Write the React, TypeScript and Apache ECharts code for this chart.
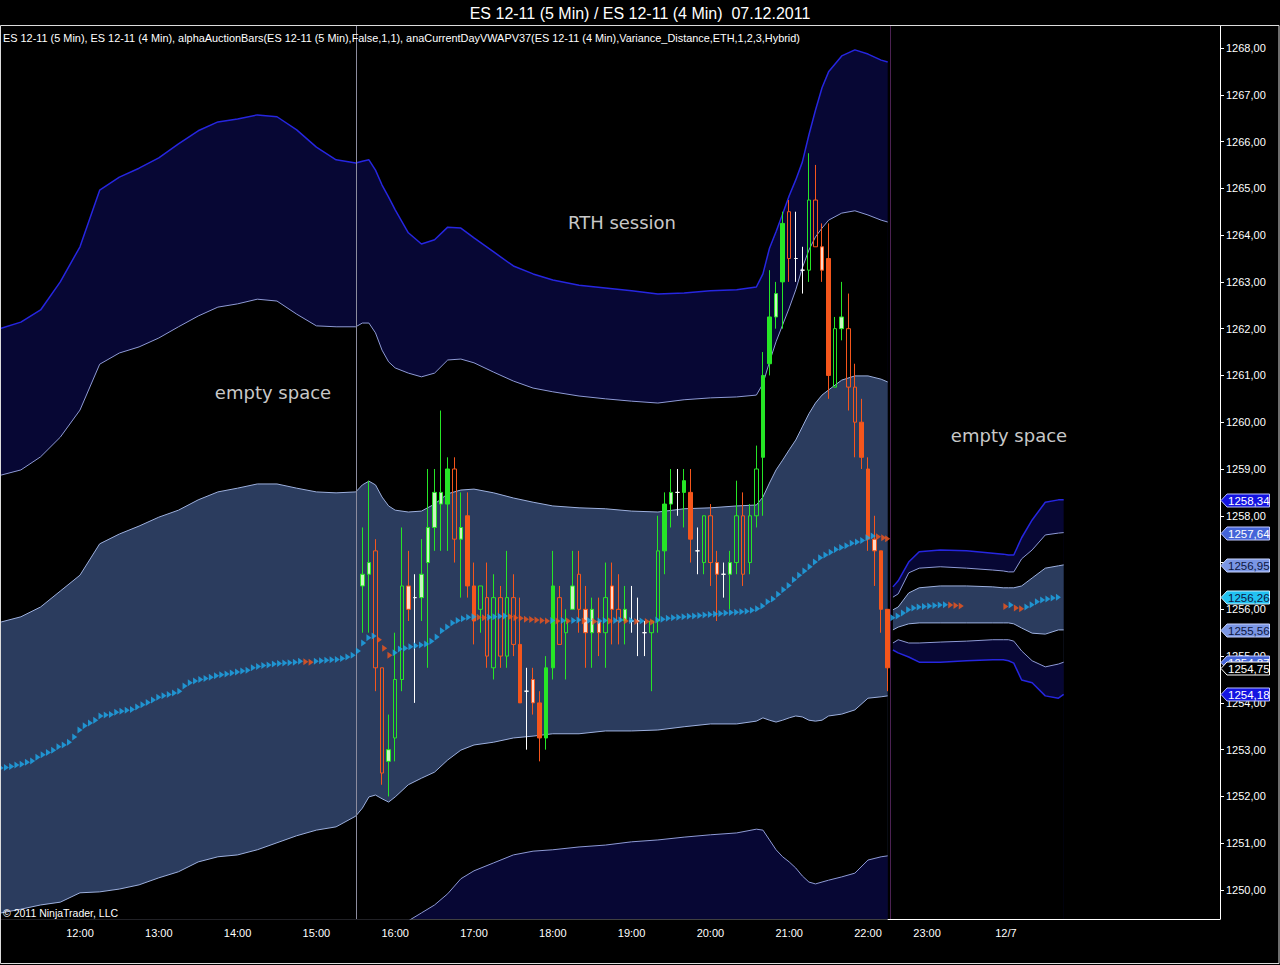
import React, { useEffect, useRef } from "react";
import * as echarts from "echarts";

const TITLE = "ES 12-11 (5 Min) / ES 12-11 (4 Min)  07.12.2011";
const LEGEND_TEXT =
  "ES 12-11 (5 Min), ES 12-11 (4 Min), alphaAuctionBars(ES 12-11 (5 Min),False,1,1), anaCurrentDayVWAPV37(ES 12-11 (4 Min),Variance_Distance,ETH,1,2,3,Hybrid)";
const COPYRIGHT = "© 2011 NinjaTrader, LLC";
const NOTES = ["empty space", "RTH session", "empty space"];

const SESSION_START = "15:30";
const SESSION_END = "22:15";
const POST_START = "22:34";

// x axis ticks
const xTickTimes = ["12:00", "13:00", "14:00", "15:00", "16:00", "17:00", "18:00", "19:00", "20:00", "21:00", "22:00", "23:00", "00:00"];
const xTickLabels = ["12:00", "13:00", "14:00", "15:00", "16:00", "17:00", "18:00", "19:00", "20:00", "21:00", "22:00", "23:00", "12/7"];
const yTickValues = [1250, 1251, 1252, 1253, 1254, 1255, 1256, 1257, 1258, 1259, 1260, 1261, 1262, 1263, 1264, 1265, 1266, 1267, 1268];

// ---------- VWAP bands, ETH session ----------
const sessBandTimes = ["10:45", "11:00", "11:15", "11:30", "11:45", "12:00", "12:15", "12:30", "12:45", "13:00", "13:15", "13:30", "13:45", "14:00", "14:15", "14:30", "14:45", "15:00", "15:15", "15:30", "15:35", "15:40", "15:45", "15:50", "15:55", "16:00", "16:10", "16:20", "16:30", "16:40", "16:50", "17:00", "17:15", "17:30", "17:45", "18:00", "18:20", "18:40", "19:00", "19:20", "19:40", "20:00", "20:20", "20:35", "20:40", "20:45", "20:50", "20:55", "21:00", "21:05", "21:10", "21:15", "21:20", "21:25", "21:30", "21:40", "21:50", "22:00", "22:10", "22:15"];
const sessB3U = [1261.89, 1262.01, 1262.14, 1262.40, 1263.00, 1263.75, 1264.96, 1265.24, 1265.43, 1265.65, 1265.95, 1266.23, 1266.42, 1266.48, 1266.57, 1266.53, 1266.25, 1265.88, 1265.61, 1265.54, 1265.58, 1265.61, 1265.39, 1265.07, 1264.81, 1264.54, 1264.05, 1263.81, 1263.90, 1264.17, 1264.15, 1263.94, 1263.64, 1263.34, 1263.17, 1263.04, 1262.93, 1262.87, 1262.81, 1262.74, 1262.76, 1262.81, 1262.83, 1262.89, 1263.17, 1263.72, 1264.07, 1264.45, 1264.84, 1265.18, 1265.56, 1266.14, 1266.67, 1267.15, 1267.49, 1267.83, 1267.96, 1267.87, 1267.74, 1267.70];
const sessB2U = [1258.77, 1258.87, 1258.98, 1259.26, 1259.68, 1260.26, 1261.24, 1261.48, 1261.61, 1261.80, 1262.04, 1262.27, 1262.46, 1262.53, 1262.63, 1262.59, 1262.31, 1262.06, 1262.04, 1262.04, 1262.12, 1262.12, 1261.91, 1261.54, 1261.29, 1261.16, 1261.05, 1260.97, 1261.05, 1261.33, 1261.35, 1261.27, 1261.07, 1260.88, 1260.73, 1260.65, 1260.56, 1260.50, 1260.45, 1260.41, 1260.48, 1260.52, 1260.54, 1260.58, 1260.82, 1261.29, 1261.72, 1262.08, 1262.44, 1262.83, 1263.30, 1263.68, 1263.96, 1264.15, 1264.32, 1264.47, 1264.52, 1264.43, 1264.32, 1264.28];
const sessB1U = [1255.64, 1255.73, 1255.84, 1256.05, 1256.39, 1256.73, 1257.40, 1257.61, 1257.78, 1257.97, 1258.12, 1258.34, 1258.51, 1258.59, 1258.68, 1258.68, 1258.59, 1258.51, 1258.49, 1258.51, 1258.66, 1258.74, 1258.66, 1258.40, 1258.21, 1258.12, 1258.08, 1258.10, 1258.25, 1258.47, 1258.55, 1258.57, 1258.49, 1258.38, 1258.29, 1258.21, 1258.17, 1258.15, 1258.10, 1258.08, 1258.15, 1258.17, 1258.21, 1258.23, 1258.40, 1258.70, 1258.98, 1259.19, 1259.41, 1259.62, 1259.90, 1260.18, 1260.41, 1260.58, 1260.69, 1260.90, 1260.99, 1260.99, 1260.92, 1260.86];
const sessB1L = [1249.40, 1249.51, 1249.59, 1249.68, 1249.74, 1249.94, 1249.96, 1250.02, 1250.11, 1250.26, 1250.39, 1250.60, 1250.71, 1250.75, 1250.86, 1251.01, 1251.16, 1251.28, 1251.35, 1251.58, 1251.75, 1251.99, 1252.03, 1251.95, 1251.88, 1251.99, 1252.25, 1252.39, 1252.52, 1252.78, 1252.99, 1253.10, 1253.16, 1253.25, 1253.29, 1253.34, 1253.34, 1253.40, 1253.40, 1253.42, 1253.49, 1253.55, 1253.55, 1253.61, 1253.68, 1253.63, 1253.59, 1253.63, 1253.68, 1253.72, 1253.70, 1253.63, 1253.61, 1253.63, 1253.72, 1253.76, 1253.85, 1254.10, 1254.13, 1254.15];
const sessB2L = [1246.28, 1246.35, 1246.41, 1246.47, 1246.43, 1246.58, 1246.15, 1246.13, 1246.26, 1246.45, 1246.43, 1246.71, 1246.73, 1246.79, 1246.90, 1247.11, 1247.44, 1247.73, 1247.80, 1248.10, 1248.27, 1248.65, 1248.78, 1248.80, 1248.76, 1248.97, 1249.34, 1249.51, 1249.68, 1249.92, 1250.24, 1250.41, 1250.58, 1250.75, 1250.83, 1250.86, 1250.92, 1250.96, 1251.03, 1251.07, 1251.13, 1251.18, 1251.22, 1251.30, 1251.28, 1251.07, 1250.86, 1250.71, 1250.60, 1250.47, 1250.30, 1250.17, 1250.13, 1250.17, 1250.21, 1250.28, 1250.36, 1250.64, 1250.71, 1250.73];
const sessB3L = [1243.16, 1243.20, 1243.25, 1243.33, 1243.12, 1243.10, 1242.43, 1242.37, 1242.43, 1242.60, 1242.52, 1242.75, 1242.78, 1242.84, 1242.97, 1243.18, 1243.50, 1243.91, 1244.23, 1244.59, 1244.81, 1245.17, 1245.30, 1245.28, 1245.23, 1245.60, 1246.35, 1246.67, 1246.84, 1247.07, 1247.44, 1247.73, 1247.99, 1248.29, 1248.42, 1248.50, 1248.57, 1248.67, 1248.70, 1248.76, 1248.87, 1248.91, 1248.93, 1249.00, 1248.93, 1248.63, 1248.50, 1248.38, 1248.25, 1248.16, 1247.99, 1247.67, 1247.35, 1247.09, 1246.92, 1246.84, 1246.88, 1247.22, 1247.31, 1247.31];

// ---------- VWAP bands, after the session break ----------
const postBandTimes = ["22:34", "22:38", "22:46", "22:54", "23:10", "23:30", "23:50", "23:58", "00:02", "00:06", "00:12", "00:20", "00:30", "00:40", "00:44"];
const postB3U = [1256.48, 1256.61, 1257.01, 1257.23, 1257.27, 1257.25, 1257.20, 1257.18, 1257.16, 1257.16, 1257.53, 1257.91, 1258.29, 1258.34, 1258.34];
const postB2U = [1256.26, 1256.33, 1256.78, 1256.88, 1256.91, 1256.88, 1256.84, 1256.82, 1256.80, 1256.80, 1257.08, 1257.27, 1257.59, 1257.63, 1257.64];
const postB1U = [1255.99, 1256.05, 1256.35, 1256.46, 1256.50, 1256.50, 1256.48, 1256.46, 1256.46, 1256.46, 1256.50, 1256.67, 1256.88, 1256.93, 1256.95];
const postB1L = [1255.56, 1255.62, 1255.69, 1255.71, 1255.71, 1255.71, 1255.71, 1255.71, 1255.71, 1255.69, 1255.60, 1255.49, 1255.47, 1255.56, 1255.56];
const postB2L = [1255.28, 1255.35, 1255.28, 1255.28, 1255.30, 1255.32, 1255.35, 1255.35, 1255.35, 1255.32, 1255.11, 1254.90, 1254.77, 1254.83, 1254.87];
const postB3L = [1255.13, 1255.07, 1254.98, 1254.87, 1254.87, 1254.90, 1254.92, 1254.92, 1254.90, 1254.85, 1254.49, 1254.43, 1254.15, 1254.10, 1254.18];

// ---------- VWAP (4 min bars) ----------
const vwapSessStart = "11:00";
const vwapSess = [
  1252.61, 1252.62, 1252.64, 1252.67, 1252.69, 1252.73, 1252.76, 1252.84, 1252.89, 1252.94,
  1252.99, 1253.06, 1253.10, 1253.16, 1253.27, 1253.42, 1253.51, 1253.57, 1253.63, 1253.72,
  1253.74, 1253.75, 1253.80, 1253.82, 1253.84, 1253.86, 1253.91, 1253.96, 1254.01, 1254.06,
  1254.12, 1254.15, 1254.18, 1254.21, 1254.25, 1254.36, 1254.43, 1254.47, 1254.50, 1254.52,
  1254.55, 1254.58, 1254.60, 1254.62, 1254.64, 1254.66, 1254.68, 1254.70, 1254.75, 1254.78,
  1254.80, 1254.81, 1254.83, 1254.84, 1254.85, 1254.86, 1254.87, 1254.89, 1254.88, 1254.87,
  1254.89, 1254.90, 1254.91, 1254.92, 1254.93, 1254.95, 1254.98, 1255.02, 1255.11, 1255.28,
  1255.39, 1255.43, 1255.35, 1255.17, 1255.02, 1255.07, 1255.15, 1255.17, 1255.20, 1255.22,
  1255.24, 1255.26, 1255.32, 1255.41, 1255.54, 1255.62, 1255.71, 1255.76, 1255.80, 1255.83,
  1255.84, 1255.83, 1255.82, 1255.83, 1255.84, 1255.85, 1255.86, 1255.84, 1255.82, 1255.81,
  1255.79, 1255.78, 1255.77, 1255.76, 1255.75, 1255.76, 1255.75, 1255.76, 1255.75, 1255.76,
  1255.77, 1255.75, 1255.76, 1255.74, 1255.75, 1255.76, 1255.75, 1255.76, 1255.77, 1255.75,
  1255.76, 1255.74, 1255.75, 1255.74, 1255.73, 1255.77, 1255.79, 1255.81, 1255.82, 1255.83,
  1255.84, 1255.85, 1255.86, 1255.87, 1255.88, 1255.89, 1255.90, 1255.91, 1255.92, 1255.93,
  1255.94, 1255.95, 1255.96, 1255.98, 1256.01, 1256.07, 1256.16, 1256.22, 1256.32, 1256.42,
  1256.51, 1256.63, 1256.73, 1256.82, 1256.91, 1257.01, 1257.10, 1257.16, 1257.22, 1257.28,
  1257.32, 1257.36, 1257.41, 1257.44, 1257.47, 1257.53, 1257.57, 1257.55, 1257.53,
];
const vwapSessLast = { time: "22:15", value: 1257.51 };
const vwapPost1Start = "22:34";
const vwapPost1 = [1255.82, 1255.86, 1255.92, 1255.99, 1256.03, 1256.05, 1256.06, 1256.07, 1256.08, 1256.09, 1256.10, 1256.09, 1256.08, 1256.07];
const vwapPost2Start = "00:00";
const vwapPost2 = [1256.06, 1256.09, 1256.03, 1256.01, 1256.05, 1256.10, 1256.16, 1256.20, 1256.22, 1256.24, 1256.26];

// ---------- 5 min bars (alphaAuctionBars) ----------
const candleStart = "15:35";
const candleOpen = [
  1256.50, 1256.75, 1257.25, 1254.75, 1252.75, 1253.25, 1254.50, 1256.50, 1256.25, 1256.25,
  1257.00, 1257.75, 1258.25, 1258.25, 1259.00, 1257.50, 1258.00, 1256.50, 1256.00, 1256.25,
  1254.75, 1256.25, 1255.00, 1256.25, 1255.25, 1254.25, 1254.50, 1254.00, 1253.25, 1254.75,
  1256.25, 1255.50, 1256.00, 1256.75, 1256.00, 1255.50, 1255.75, 1255.50, 1256.50, 1256.00,
  1255.75, 1255.75, 1255.75, 1255.50, 1255.50, 1255.75, 1257.25, 1258.25, 1258.50, 1258.50,
  1258.50, 1257.25, 1257.00, 1258.00, 1257.00, 1256.75, 1256.75, 1257.00, 1258.00, 1257.00,
  1258.00, 1259.25, 1261.25, 1262.25, 1263.00, 1264.50, 1263.50, 1263.25, 1263.25, 1264.75,
  1263.75, 1263.50, 1260.75, 1262.00, 1262.00, 1260.75, 1260.00, 1259.00, 1257.50, 1257.25,
  1256.00,
];
const candleHigh = [
  1257.75, 1258.75, 1257.50, 1254.75, 1253.75, 1255.50, 1257.75, 1257.25, 1256.75, 1257.50,
  1259.00, 1259.00, 1260.25, 1259.25, 1259.25, 1258.50, 1258.50, 1257.00, 1256.50, 1257.00,
  1256.75, 1256.50, 1257.25, 1256.75, 1256.25, 1254.75, 1254.75, 1254.25, 1255.00, 1257.25,
  1256.50, 1256.00, 1257.25, 1257.25, 1256.50, 1256.25, 1256.25, 1257.00, 1257.00, 1256.75,
  1256.50, 1256.50, 1256.25, 1255.75, 1255.75, 1258.00, 1258.50, 1259.00, 1259.00, 1259.00,
  1259.00, 1257.75, 1258.00, 1258.25, 1257.25, 1257.00, 1257.25, 1258.75, 1258.50, 1258.25,
  1259.50, 1261.50, 1263.25, 1263.00, 1264.50, 1264.75, 1264.50, 1263.75, 1265.75, 1265.50,
  1264.25, 1264.25, 1262.25, 1263.00, 1262.75, 1261.25, 1260.50, 1259.25, 1258.00, 1257.25,
  1256.00,
];
const candleLow = [
  1255.50, 1255.50, 1254.25, 1252.25, 1252.00, 1252.75, 1254.25, 1255.75, 1254.00, 1255.75,
  1254.75, 1257.25, 1257.25, 1257.25, 1257.00, 1256.25, 1256.25, 1255.25, 1255.50, 1254.75,
  1254.50, 1254.75, 1254.75, 1255.00, 1254.00, 1253.00, 1253.75, 1252.75, 1253.00, 1254.50,
  1255.25, 1254.50, 1256.00, 1255.50, 1254.75, 1254.75, 1255.00, 1254.75, 1255.25, 1255.25,
  1255.25, 1255.50, 1255.00, 1255.00, 1254.25, 1255.50, 1256.75, 1257.75, 1258.00, 1257.75,
  1257.00, 1256.75, 1256.75, 1256.50, 1255.75, 1256.25, 1256.00, 1256.75, 1256.50, 1256.75,
  1257.75, 1258.00, 1261.00, 1262.00, 1262.00, 1263.00, 1263.00, 1262.75, 1263.00, 1263.75,
  1263.00, 1260.50, 1260.75, 1261.75, 1260.25, 1259.25, 1259.00, 1257.25, 1256.50, 1255.50,
  1254.25,
];
const candleClose = [
  1256.75, 1257.00, 1254.75, 1252.50, 1253.00, 1254.50, 1256.50, 1256.00, 1256.25, 1256.75,
  1257.75, 1258.50, 1258.50, 1259.00, 1257.50, 1257.75, 1256.50, 1255.75, 1256.50, 1255.00,
  1256.25, 1255.00, 1256.25, 1255.25, 1254.00, 1254.25, 1254.00, 1253.25, 1254.75, 1256.50,
  1255.25, 1255.75, 1256.50, 1256.00, 1255.50, 1256.00, 1255.50, 1256.25, 1256.00, 1255.75,
  1256.00, 1255.75, 1255.75, 1255.50, 1255.75, 1257.25, 1258.25, 1258.50, 1258.50, 1258.75,
  1257.50, 1257.25, 1258.00, 1257.00, 1256.75, 1256.75, 1257.00, 1258.00, 1256.75, 1258.00,
  1259.00, 1261.00, 1262.25, 1262.75, 1264.25, 1263.50, 1263.50, 1263.25, 1264.75, 1263.75,
  1263.25, 1261.00, 1262.00, 1262.25, 1260.75, 1260.00, 1259.25, 1257.50, 1257.25, 1256.00,
  1254.75,
];
// U up solid, u up hollow, l up light, D down solid, d down hollow, p down light, x doji
const candleStyle = [
  "l", "l", "d", "d", "l", "u", "u", "p", "x", "l",
  "l", "l", "l", "U", "d", "l", "D", "D", "u", "d",
  "u", "d", "u", "d", "D", "x", "p", "D", "U", "U",
  "d", "u", "l", "d", "p", "l", "p", "u", "p", "d",
  "l", "x", "x", "x", "u", "u", "U", "l", "x", "U",
  "D", "x", "u", "d", "p", "x", "l", "u", "d", "u",
  "u", "U", "U", "l", "U", "d", "x", "x", "u", "d",
  "p", "D", "u", "l", "d", "d", "D", "D", "p", "D",
  "D",
];

// ---------- styling ----------
const FONT = '"Liberation Sans", Arial, sans-serif';
const NOTE_FONT = '"DejaVu Sans", Verdana, sans-serif';
const NAVY = "#070734";
const SLATE = "#2b3c5e";
const OUTER_LINE = "#2626e0";
const MID_LINE = "#8e9ad6";
const INNER_LINE = "#9db0de";
const GREEN = "#26e626";
const ORANGE = "#f5561c";
const CYAN = "#1eaaee";
const CANDLE_COLORS: Record<string, { fill: string; line: string }> = {
  U: { fill: GREEN, line: GREEN },
  u: { fill: "transparent", line: GREEN },
  l: { fill: "#c8f5c0", line: GREEN },
  D: { fill: ORANGE, line: ORANGE },
  d: { fill: "transparent", line: ORANGE },
  p: { fill: "#ffd8c6", line: ORANGE },
  x: { fill: "#ffffff", line: "#ffffff" },
};

const BREAK_HOURS = 0.25; // 22:15 - 22:30 maintenance break is not drawn
const X_MIN = 10.985;
const X_MAX = 26.467;
const Y_MIN = 1249.38;
const Y_MAX = 1268.47;

function toHours(s: string): number {
  const [h, m] = s.split(":").map(Number);
  let t = h + m / 60;
  if (t < 6) t += 24;
  return t;
}
function toAxis(s: string): number {
  const t = toHours(s);
  const end = toHours(SESSION_END);
  return t > end ? t - BREAK_HOURS : t;
}
function barTimes(start: string, stepMin: number, count: number): string[] {
  const [h, m] = start.split(":").map(Number);
  const out: string[] = [];
  for (let i = 0; i < count; i++) {
    const tot = h * 60 + m + stepMin * i;
    const hh = Math.floor(tot / 60) % 24;
    const mm = tot % 60;
    out.push(`${String(hh).padStart(2, "0")}:${String(mm).padStart(2, "0")}`);
  }
  return out;
}
const fmtPrice = (v: number) => v.toFixed(2).replace(".", ",");
const last = (a: number[]) => a[a.length - 1];

function bandSeries(key: string, times: string[], b3u: number[], b2u: number[], b1u: number[], b1l: number[], b2l: number[], b3l: number[]) {
  const xs = times.map(toAxis);
  const pts = (arr: number[]) => arr.map((v, i) => [xs[i], v]);
  const mk = (name: string, arr: number[], fill: string, line: string, width: number) => ({
    type: "line",
    name: key + name,
    data: pts(arr),
    symbol: "none",
    silent: true,
    clip: true,
    z: 1,
    lineStyle: { color: line, width },
    areaStyle: { color: fill, opacity: 1, origin: "start" },
  });
  // painted from the top band down; each area runs to the bottom and the next one covers it
  return [
    mk("b3u", b3u, NAVY, OUTER_LINE, 1.5),
    mk("b2u", b2u, "#000000", MID_LINE, 1),
    mk("b1u", b1u, SLATE, INNER_LINE, 1),
    mk("b1l", b1l, "#000000", INNER_LINE, 1),
    mk("b2l", b2l, NAVY, MID_LINE, 1),
    mk("b3l", b3l, "#000000", OUTER_LINE, 1.5),
  ];
}

function vwapPoints(times: string[], values: number[], prev: number | null) {
  return values.map((v, i) => {
    const before = i === 0 ? prev : values[i - 1];
    const falling = before != null && v < before;
    return { value: [toAxis(times[i]), v], itemStyle: { color: falling ? ORANGE : CYAN } };
  });
}

function buildOption() {
  const candleTimes = barTimes(candleStart, 5, candleOpen.length);
  const candles = candleOpen.map((o, i) => {
    const c = CANDLE_COLORS[candleStyle[i]];
    return {
      value: [toAxis(candleTimes[i]), o, candleClose[i], candleLow[i], candleHigh[i]],
      itemStyle: {
        color: c.fill,
        color0: c.fill,
        borderColor: c.line,
        borderColor0: c.line,
        borderColorDoji: c.line,
        borderWidth: 1,
      },
    };
  });

  const sessTimes = [...barTimes(vwapSessStart, 4, vwapSess.length), vwapSessLast.time];
  const sessVals = [...vwapSess, vwapSessLast.value];
  const post1Times = barTimes(vwapPost1Start, 4, vwapPost1.length);
  const post2Times = barTimes(vwapPost2Start, 4, vwapPost2.length);
  const vwapData = [
    ...vwapPoints(sessTimes, sessVals, null),
    ...vwapPoints(post1Times, vwapPost1, null),
    ...vwapPoints(post2Times, vwapPost2, last(vwapPost1)),
  ];

  const xTickVals = xTickTimes.map(toAxis);
  const sessionEndLine = (toAxis(SESSION_END) + toAxis(POST_START)) / 2;

  return {
    backgroundColor: "#000000",
    animation: false,
    grid: { left: 0, right: 60, top: 26, bottom: 46, containLabel: false },
    xAxis: {
      type: "value",
      min: X_MIN,
      max: X_MAX,
      axisLine: { show: true, onZero: false, lineStyle: { color: "#ffffff", width: 1 } },
      axisTick: { show: false },
      splitLine: { show: false },
      axisLabel: {
        show: true,
        customValues: xTickVals,
        formatter: (v: number) => {
          const idx = xTickVals.findIndex((t) => Math.abs(t - v) < 1e-6);
          return idx >= 0 ? xTickLabels[idx] : "";
        },
        color: "#ffffff",
        fontSize: 11,
        fontFamily: FONT,
        margin: 8,
      },
    },
    yAxis: {
      type: "value",
      position: "right",
      min: Y_MIN,
      max: Y_MAX,
      axisLine: { show: true, lineStyle: { color: "#ffffff", width: 1 } },
      axisTick: { show: true, length: 4, customValues: yTickValues, lineStyle: { color: "#ffffff" } },
      splitLine: { show: false },
      axisLabel: {
        show: true,
        customValues: yTickValues,
        formatter: (v: number) => fmtPrice(v),
        color: "#ffffff",
        fontSize: 11,
        fontFamily: FONT,
        margin: 6,
      },
    },
    series: [
      ...bandSeries("s", sessBandTimes, sessB3U, sessB2U, sessB1U, sessB1L, sessB2L, sessB3L),
      ...bandSeries("p", postBandTimes, postB3U, postB2U, postB1U, postB1L, postB2L, postB3L),
      {
        type: "candlestick",
        name: "alphaAuctionBars",
        data: candles,
        barWidth: 4,
        z: 4,
        clip: true,
        silent: true,
        markLine: {
          silent: true,
          symbol: ["none", "none"],
          label: { show: false },
          animation: false,
          data: [
            { xAxis: toAxis(SESSION_START), lineStyle: { color: "#8c8c9e", width: 1, type: "solid" } },
            { xAxis: sessionEndLine, lineStyle: { color: "#4c2252", width: 1, type: "solid" } },
          ],
        },
      },
      {
        type: "scatter",
        name: "VWAP",
        data: vwapData,
        symbol: "path://M0,0L10,5L0,10Z",
        symbolSize: [5, 7],
        z: 5,
        clip: true,
        silent: true,
      },
    ],
  };
}

function staticGraphics() {
  return [
    { type: "rect", z: 90, shape: { x: 0.5, y: 25.5, width: 1278.5, height: 938 }, style: { fill: "none", stroke: "#dcdcdc", lineWidth: 1 }, silent: true },
    { type: "text", z: 95, x: 640, y: 13, style: { text: TITLE, fill: "#ffffff", font: `16px ${FONT}`, textAlign: "center", textVerticalAlign: "middle" }, silent: true },
    { type: "text", z: 95, x: 3, y: 38, style: { text: LEGEND_TEXT, fill: "#ffffff", font: `10.9px ${FONT}`, textAlign: "left", textVerticalAlign: "middle" }, silent: true },
    { type: "text", z: 95, x: 3, y: 913, style: { text: COPYRIGHT, fill: "#ffffff", font: `10.5px ${FONT}`, textAlign: "left", textVerticalAlign: "middle" }, silent: true },
    { type: "text", z: 95, x: 273, y: 392, style: { text: NOTES[0], fill: "#c8c8c8", font: `18px ${NOTE_FONT}`, textAlign: "center", textVerticalAlign: "middle" }, silent: true },
    { type: "text", z: 95, x: 622, y: 222, style: { text: NOTES[1], fill: "#c8c8c8", font: `18px ${NOTE_FONT}`, textAlign: "center", textVerticalAlign: "middle" }, silent: true },
    { type: "text", z: 95, x: 1009, y: 435, style: { text: NOTES[2], fill: "#c8c8c8", font: `18px ${NOTE_FONT}`, textAlign: "center", textVerticalAlign: "middle" }, silent: true },
  ];
}

function priceTags(chart: any) {
  const defs = [
    { value: last(postB3U), fill: "#1414e2", text: "#ffffff", stroke: "#b8c0ff" },
    { value: last(postB2U), fill: "#4464d8", text: "#ffffff", stroke: "#c0c8ff" },
    { value: last(postB1U), fill: "#7b96e4", text: "#0c1642", stroke: "#c8d4ff" },
    { value: last(vwapPost2), fill: "#22c2f2", text: "#0c1642", stroke: "#c8f0ff" },
    { value: last(postB1L), fill: "#7b96e4", text: "#0c1642", stroke: "#c8d4ff" },
    { value: last(postB2L), fill: "#4464d8", text: "#ffffff", stroke: "#c0c8ff" },
    { value: last(candleClose), fill: "#000000", text: "#ffffff", stroke: "#ffffff" },
    { value: last(postB3L), fill: "#1414e2", text: "#ffffff", stroke: "#b8c0ff" },
  ];
  const out: any[] = [];
  defs.forEach((d, i) => {
    const p = chart.convertToPixel({ gridIndex: 0 }, [X_MAX, d.value]);
    const y = Math.round(p[1]) + 0.5;
    const x0 = 1221;
    out.push({
      type: "polygon",
      z: 100 + i,
      silent: true,
      shape: { points: [[x0, y], [x0 + 6, y - 6.5], [1269.5, y - 6.5], [1269.5, y + 6.5], [x0 + 6, y + 6.5]] },
      style: { fill: d.fill, stroke: d.stroke, lineWidth: 1 },
    });
    out.push({
      type: "text",
      z: 100 + i,
      silent: true,
      x: 1228,
      y: y,
      style: { text: fmtPrice(d.value), fill: d.text, font: `11.5px ${FONT}`, textAlign: "left", textVerticalAlign: "middle" },
    });
  });
  return out;
}

export default function App() {
  const ref = useRef<HTMLDivElement>(null);
  useEffect(() => {
    if (!ref.current) return;
    const chart = echarts.init(ref.current, null, { renderer: "svg" });
    chart.setOption(buildOption() as any);
    chart.setOption({ graphic: [...staticGraphics(), ...priceTags(chart)] } as any);
    return () => chart.dispose();
  }, []);
  return (
    <div
      ref={ref}
      style={{ position: "fixed", left: 0, top: 0, width: 1280, height: 965, background: "#000000" }}
    />
  );
}
